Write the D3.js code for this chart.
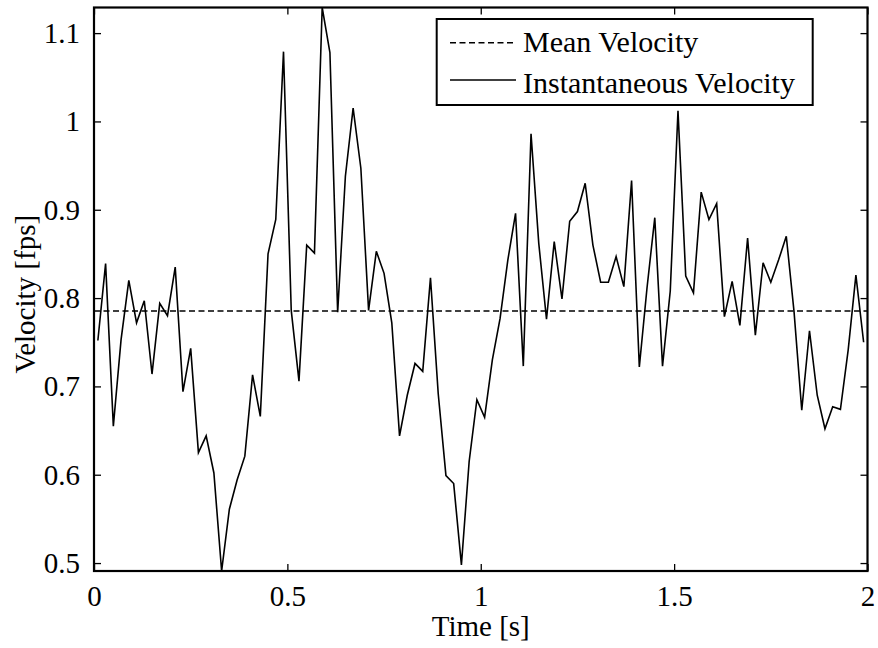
<!DOCTYPE html>
<html>
<head>
<meta charset="utf-8">
<script src="https://cdn.jsdelivr.net/npm/d3@7"></script>
<style>
  html, body { margin: 0; padding: 0; background: #fff; }
  svg text { font-family: "Liberation Serif", "Times New Roman", serif; fill: #000; }
</style>
</head>
<body>
<svg id="chart" width="878" height="648"></svg>
<script>
// Velocity samples, 50 Hz, first sample centred at 0.01 s
const sampleStart = 0.01;
const sampleStep = 0.02;
const velocity = [
  0.752, 0.839, 0.655, 0.753, 0.820, 0.772, 0.797, 0.714, 0.794, 0.780,
  0.835, 0.694, 0.743, 0.625, 0.644, 0.602, 0.491, 0.561, 0.594, 0.621,
  0.713, 0.666, 0.850, 0.889, 1.079, 0.786, 0.706, 0.860, 0.851, 1.129,
  1.078, 0.784, 0.938, 1.015, 0.947, 0.786, 0.853, 0.828, 0.772, 0.644,
  0.690, 0.726, 0.717, 0.823, 0.692, 0.599, 0.590, 0.498, 0.615, 0.685,
  0.665, 0.730, 0.777, 0.843, 0.896, 0.723, 0.986, 0.862, 0.776, 0.864,
  0.799, 0.887, 0.898, 0.930, 0.860, 0.818, 0.818, 0.847, 0.813, 0.933,
  0.722, 0.812, 0.891, 0.723, 0.808, 1.012, 0.825, 0.806, 0.920, 0.889,
  0.907, 0.779, 0.819, 0.769, 0.868, 0.758, 0.840, 0.818, 0.843, 0.870,
  0.785, 0.673, 0.763, 0.690, 0.652, 0.677, 0.674, 0.741, 0.826, 0.750
];
const xTicks = [0, 0.5, 1, 1.5, 2];
const xTickLabels = ["0", "0.5", "1", "1.5", "2"];
const yTicks = [0.5, 0.6, 0.7, 0.8, 0.9, 1.0, 1.1];
const yTickLabels = ["0.5", "0.6", "0.7", "0.8", "0.9", "1", "1.1"];
const legendLabels = ["Mean Velocity", "Instantaneous Velocity"];
const xTitle = "Time [s]";
const yTitle = "Velocity [fps]";

const times = velocity.map((_, i) => sampleStart + sampleStep * i);
const meanVelocity = d3.mean(velocity);
const points = velocity.map((v, i) => ({ t: times[i], v }));

const plot = { left: 94, right: 867.5, top: 7.5, bottom: 571 };
const fontSize = 29;
const tickLen = 7;

const svg = d3.select("#chart");

const x = d3.scaleLinear().domain([0, 2]).range([plot.left, plot.right]);
const y = d3.scaleLinear().domain(d3.extent(velocity)).range([plot.bottom, plot.top]);

// Plot body, clipped to the axes box
svg.append("clipPath").attr("id", "plotClip")
  .append("rect")
  .attr("x", plot.left).attr("y", plot.top)
  .attr("width", plot.right - plot.left).attr("height", plot.bottom - plot.top);

const body = svg.append("g").attr("clip-path", "url(#plotClip)");

body.append("line")
  .attr("x1", x(0)).attr("x2", x(2))
  .attr("y1", y(meanVelocity)).attr("y2", y(meanVelocity))
  .attr("stroke", "#000").attr("stroke-width", 1.4)
  .attr("stroke-dasharray", "6,3.5");

body.append("path")
  .datum(points)
  .attr("fill", "none")
  .attr("stroke", "#000")
  .attr("stroke-width", 1.6)
  .attr("stroke-linejoin", "miter")
  .attr("d", d3.line().x(d => x(d.t)).y(d => y(d.v)));

// Axes: ticks point inward on all four sides
const fmtX = d => xTickLabels[xTicks.indexOf(d)];
const fmtY = d => yTickLabels[yTicks.indexOf(d)];

const styleAxis = g => {
  g.select(".domain").remove();
  g.selectAll(".tick line").attr("stroke", "#000").attr("stroke-width", 1.3);
  g.selectAll(".tick text").style("font-size", fontSize + "px")
    .style("font-family", '"Liberation Serif", "Times New Roman", serif');
};

svg.append("g")
  .attr("transform", `translate(0,${plot.bottom})`)
  .call(d3.axisBottom(x).tickValues(xTicks).tickFormat(fmtX).tickSizeInner(-tickLen).tickSizeOuter(0).tickPadding(14))
  .call(styleAxis);

svg.append("g")
  .attr("transform", `translate(0,${plot.top})`)
  .call(d3.axisTop(x).tickValues(xTicks).tickFormat("").tickSizeInner(-tickLen).tickSizeOuter(0))
  .call(styleAxis);

svg.append("g")
  .attr("transform", `translate(${plot.left},0)`)
  .call(d3.axisLeft(y).tickValues(yTicks).tickFormat(fmtY).tickSizeInner(-tickLen).tickSizeOuter(0).tickPadding(14))
  .call(styleAxis);

svg.append("g")
  .attr("transform", `translate(${plot.right},0)`)
  .call(d3.axisRight(y).tickValues(yTicks).tickFormat("").tickSizeInner(-tickLen).tickSizeOuter(0))
  .call(styleAxis);

// Axes box
svg.append("rect")
  .attr("x", plot.left).attr("y", plot.top)
  .attr("width", plot.right - plot.left).attr("height", plot.bottom - plot.top)
  .attr("fill", "none").attr("stroke", "#000").attr("stroke-width", 2.2);

// Axis titles
svg.append("text")
  .attr("x", (plot.left + plot.right) / 2)
  .attr("y", 636)
  .attr("text-anchor", "middle")
  .style("font-size", fontSize + "px")
  .text(xTitle);

svg.append("text")
  .attr("transform", `translate(35,${(plot.top + plot.bottom) / 2 + 5}) rotate(-90)`)
  .attr("text-anchor", "middle")
  .style("font-size", fontSize + "px")
  .text(yTitle);

// Legend
const legend = svg.append("g");
legend.append("rect")
  .attr("x", 436.7).attr("y", 19)
  .attr("width", 376).attr("height", 86)
  .attr("fill", "#fff").attr("stroke", "#000").attr("stroke-width", 2);

const legendRows = [
  { label: legendLabels[0], dash: "6,3.5", ly: 42.7, ty: 52 },
  { label: legendLabels[1], dash: null, ly: 80, ty: 93 }
];
legendRows.forEach(r => {
  legend.append("line")
    .attr("x1", 450).attr("x2", 516)
    .attr("y1", r.ly).attr("y2", r.ly)
    .attr("stroke", "#000").attr("stroke-width", 1.4)
    .attr("stroke-dasharray", r.dash);
  legend.append("text")
    .attr("x", 523).attr("y", r.ty)
    .style("font-size", "30px")
    .text(r.label);
});
</script>
</body>
</html>
